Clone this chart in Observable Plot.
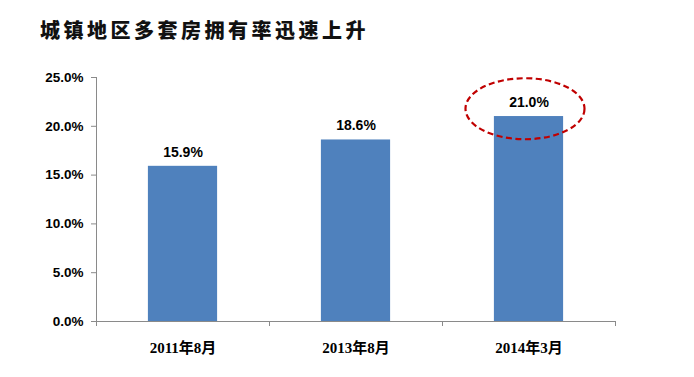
<!DOCTYPE html>
<html>
<head>
<meta charset="utf-8">
<script src="https://cdn.jsdelivr.net/npm/d3@7"></script>
<script src="https://cdn.jsdelivr.net/npm/@observablehq/plot@0.6"></script>
<style>
  body { margin: 0; background: #fff; width: 694px; height: 377px; overflow: hidden; }
  #title { position: absolute; left: 40px; top: 0; height: 60px; line-height: 60px;
    font-family: "Noto Sans CJK SC", sans-serif; font-weight: 900; font-size: 20px;
    letter-spacing: 3.5px; color: #111; }
  #chart { position: absolute; left: 0; top: 60px; }
</style>
</head>
<body>
<div id="title">城镇地区多套房拥有率迅速上升</div>
<div id="chart"></div>
<script>
const title = "城镇地区多套房拥有率迅速上升";
const categories = ["2011年8月", "2013年8月", "2014年3月"];
const values = [15.9, 18.6, 21.0];
const yTicks = [0, 5, 10, 15, 20, 25];
const highlightIndex = [2];
const highlightLevel = [21.8];

const data = categories.map((c, i) => ({cat: c, i, value: values[i]}));
const highlight = highlightIndex.map((i, k) => ({i, v: highlightLevel[k]}));

const rx = 59.5, ry = 30.5, kk = 0.5523;
const ellipseSymbol = {
  draw(ctx) {
    ctx.moveTo(rx, 0);
    ctx.bezierCurveTo(rx, ry * kk, rx * kk, ry, 0, ry);
    ctx.bezierCurveTo(-rx * kk, ry, -rx, ry * kk, -rx, 0);
    ctx.bezierCurveTo(-rx, -ry * kk, -rx * kk, -ry, 0, -ry);
    ctx.bezierCurveTo(rx * kk, -ry, rx, -ry * kk, rx, 0);
    ctx.closePath();
  }
};

const axisColor = "#8a8a8a";
const chart = Plot.plot({
  width: 694,
  height: 317,
  marginTop: 17,
  marginBottom: 56,
  marginLeft: 96,
  marginRight: 79,
  style: {fontFamily: "'Liberation Sans', 'Noto Sans CJK SC', sans-serif", background: "#fff", color: "#000"},
  x: {type: "linear", domain: [-0.5, 2.5]},
  y: {domain: [0, 25]},
  marks: [
    Plot.rectY(data, {x1: d => d.i - 0.2, x2: d => d.i + 0.2, y: "value", fill: "#4F81BD"}),
    Plot.text(data, {x: "i", y: "value", text: d => d.value.toFixed(1) + "%", dy: -14,
      fontWeight: "bold", fontSize: 14, fill: "#000"}),
    Plot.ruleX([-0.5], {stroke: axisColor, strokeWidth: 1}),
    Plot.ruleY([0], {stroke: axisColor, strokeWidth: 1}),
    Plot.axisY({ticks: yTicks, tickFormat: d => d.toFixed(1) + "%", tickSize: 5, tickPadding: 8,
      stroke: axisColor, fill: "#000", fontWeight: "bold", fontSize: 13.5, label: null}),
    Plot.axisX({ticks: [-0.5, 0.5, 1.5, 2.5], tickFormat: () => "", tickSize: 5, stroke: axisColor, label: null}),
    Plot.axisX({ticks: [0, 1, 2], tickSize: 0, tickPadding: 21, tickFormat: i => categories[i],
      fontWeight: "bold", fontSize: 15, fill: "#000",
      fontFamily: "'Liberation Serif', 'Noto Sans CJK SC', serif", label: null}),
    Plot.dot(highlight, {x: "i", y: "v", dx: -4, symbol: ellipseSymbol, stroke: "#C00000",
      fill: "none", strokeWidth: 2.2, strokeDasharray: "6,3.5"})
  ]
});
document.getElementById("chart").appendChild(chart);
</script>
</body>
</html>
